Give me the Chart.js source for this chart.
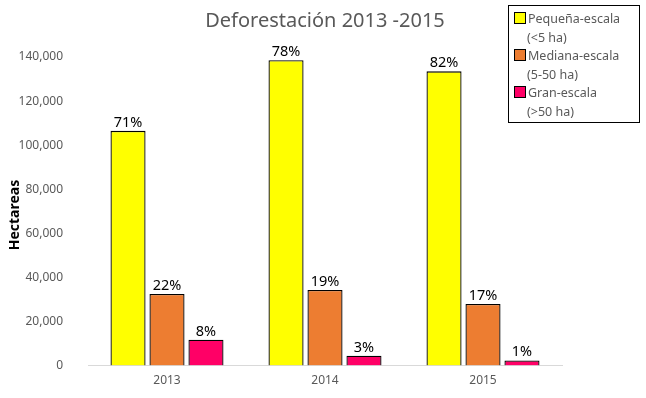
<!DOCTYPE html>
<html>
<head>
<meta charset="utf-8">
<script src="https://cdn.jsdelivr.net/npm/chart.js@4.4.1/dist/chart.umd.min.js"></script>
<style>
  body { margin: 0; background: #fff; font-family: "Noto Sans", sans-serif; }
  #wrap { position: relative; width: 646px; height: 398px; }
  #title { position: absolute; left: 0; width: 646px; top: 6px; text-align: center; padding-left: 4px;
           font-size: 20px; color: #595959; box-sizing: border-box; }
  #legend { position: absolute; left: 508px; top: 5px; width: 132px; height: 118px; box-sizing: border-box;
            border: 1px solid #000; padding: 4px 0 0 5px; font-size: 12.5px; color: #595959; line-height: 18.5px; }
  .sw { display: inline-block; width: 10px; height: 10px; border: 1px solid #000; margin-right: 2px; vertical-align: -1px; }
  .sub { padding-left: 13px; }
</style>
</head>
<body>
<div id="wrap">
  <canvas id="chart" width="646" height="398"></canvas>
  <div id="title">Deforestación 2013 -2015</div>
  <div id="legend"></div>
</div>
<script>
// ── Data ──────────────────────────────────────────────
const years = ['2013', '2014', '2015'];
const seriesNames = ['Pequeña-escala', 'Mediana-escala', 'Gran-escala'];
const seriesRanges = ['(<5 ha)', '(5-50 ha)', '(>50 ha)'];
const seriesColors = ['#ffff00', '#ed7d31', '#ff0066'];
const smallScale = [106500, 138500, 133500];
const mediumScale = [32500, 34300, 28000];
const largeScale = [11700, 4500, 2300];
const smallPct = ['71%', '78%', '82%'];
const mediumPct = ['22%', '19%', '17%'];
const largePct = ['8%', '3%', '1%'];

const values = [smallScale, mediumScale, largeScale];
const pcts = [smallPct, mediumPct, largePct];

document.getElementById('legend').innerHTML = seriesNames.map((n, i) =>
  `<div><span class="sw" style="background:${seriesColors[i]}"></span>${n}</div><div class="sub">${seriesRanges[i]}</div>`
).join('');

// percentage labels above bars
const pctLabels = {
  id: 'pctLabels',
  afterDatasetsDraw(chart) {
    const ctx = chart.ctx;
    ctx.save();
    ctx.font = '14.5px "Noto Sans", sans-serif';
    ctx.fillStyle = '#000';
    ctx.textAlign = 'center';
    ctx.textBaseline = 'bottom';
    chart.data.datasets.forEach((ds, di) => {
      chart.getDatasetMeta(di).data.forEach((bar, i) => {
        ctx.fillText(pcts[di][i], bar.x, bar.y - 1);
      });
    });
    ctx.restore();
  }
};

// rotated y-axis title
const yTitle = {
  id: 'yTitle',
  afterDraw(chart) {
    const ctx = chart.ctx;
    ctx.save();
    ctx.translate(15, 215);
    ctx.rotate(-Math.PI / 2);
    ctx.font = 'bold 14px "Noto Sans", sans-serif';
    ctx.fillStyle = '#000';
    ctx.textAlign = 'center';
    ctx.textBaseline = 'middle';
    ctx.fillText('Hectareas', 0, 0);
    ctx.restore();
  }
};

new Chart(document.getElementById('chart'), {
  type: 'bar',
  data: {
    labels: years,
    datasets: values.map((v, i) => ({
      label: seriesNames[i],
      data: v,
      backgroundColor: seriesColors[i],
      borderColor: '#000',
      borderWidth: 1.3,
      categoryPercentage: 0.74,
      barPercentage: 0.9
    }))
  },
  options: {
    responsive: false,
    animation: false,
    layout: { padding: { top: 57, right: 84, bottom: 2, left: 0 } },
    plugins: {
      legend: { display: false },
      title: { display: false },
      tooltip: { enabled: false }
    },
    scales: {
      x: {
        grid: { display: false, drawTicks: false },
        border: { display: true, color: '#d9d9d9' },
        ticks: { color: '#595959', font: { size: 12, family: '"Noto Sans", sans-serif' }, padding: 8 }
      },
      y: {
        min: 0, max: 140000,
        afterFit: s => { s.width = 88; },
        grid: { display: false },
        border: { display: false },
        ticks: {
          stepSize: 20000,
          padding: 17,
          color: '#595959',
          font: { size: 12, family: '"Noto Sans", sans-serif' },
          callback: v => v.toLocaleString('en-US')
        }
      }
    }
  },
  plugins: [pctLabels, yTitle]
});
</script>
</body>
</html>
